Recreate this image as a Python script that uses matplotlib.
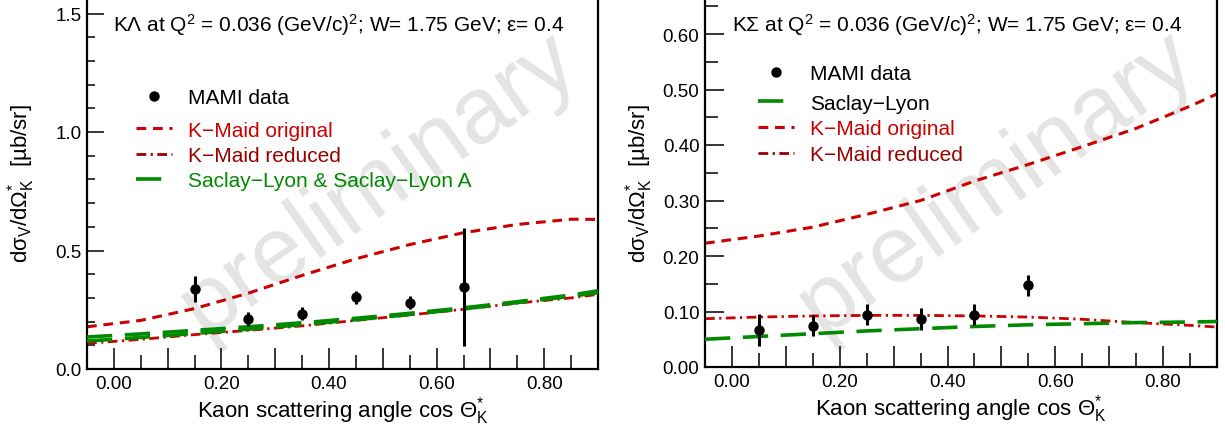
import numpy as np
import matplotlib
matplotlib.use("Agg")
import matplotlib.pyplot as plt
from matplotlib.lines import Line2D

plt.rcParams['font.family'] = ['Liberation Sans', 'DejaVu Sans']
plt.rcParams['mathtext.fontset'] = 'custom'
plt.rcParams['mathtext.rm'] = 'Liberation Sans'
plt.rcParams['mathtext.it'] = 'Liberation Sans:italic'
plt.rcParams['mathtext.default'] = 'regular'

# ---------- DATA ----------
# model curves, sampled at these cos(theta) values
curve_x = [-0.05, 0.05, 0.15, 0.25, 0.35, 0.45, 0.55, 0.65, 0.75, 0.85, 0.90]

# K Lambda
kl_kmaid_orig = [0.178, 0.205, 0.255, 0.32, 0.395, 0.465, 0.525, 0.575, 0.61, 0.632, 0.631]
kl_kmaid_red = [0.108, 0.125, 0.145, 0.163, 0.182, 0.205, 0.228, 0.252, 0.278, 0.30, 0.315]
kl_sl = [0.135, 0.148, 0.163, 0.178, 0.195, 0.214, 0.235, 0.258, 0.284, 0.312, 0.33]
kl_sla = [0.118, 0.133, 0.150, 0.168, 0.187, 0.208, 0.23, 0.254, 0.28, 0.307, 0.322]

kl_x = [0.15, 0.25, 0.35, 0.45, 0.55, 0.65]
kl_y = [0.337, 0.211, 0.233, 0.303, 0.279, 0.345]
kl_err = [0.056, 0.03, 0.027, 0.027, 0.027, 0.25]

# K Sigma
ks_kmaid_orig = [0.223, 0.236, 0.252, 0.275, 0.30, 0.335, 0.365, 0.397, 0.43, 0.47, 0.492]
ks_kmaid_red = [0.087, 0.090, 0.092, 0.093, 0.093, 0.092, 0.090, 0.086, 0.080, 0.075, 0.072]
ks_sl = [0.050, 0.055, 0.060, 0.065, 0.069, 0.073, 0.076, 0.078, 0.080, 0.081, 0.082]

ks_x = [0.05, 0.15, 0.25, 0.35, 0.45, 0.55]
ks_y = [0.066, 0.074, 0.094, 0.087, 0.094, 0.147]
ks_err = [0.029, 0.019, 0.019, 0.02, 0.019, 0.019]

x_major = [0.0, 0.1, 0.2, 0.3, 0.4, 0.5, 0.6, 0.7, 0.8, 0.9]
x_labels = ["0.00", "", "0.20", "", "0.40", "", "0.60", "", "0.80", ""]

kl_title = "K\u039b at Q$^{2}$ = 0.036 (GeV/c)$^{2}$; W= 1.75 GeV; \u03b5= 0.4"
ks_title = "K\u03a3 at Q$^{2}$ = 0.036 (GeV/c)$^{2}$; W= 1.75 GeV; \u03b5= 0.4"
xlab = "Kaon scattering angle cos \u0398$^{*}_{K}$"
ylab = "d\u03c3$_{V}$/d\u03a9$^{*}_{K}$  [\u00b5b/sr]"

RED = "#cc0000"
DRED = "#990000"
GREEN = "#008a00"
FS = 13.5     # tick labels
FT = 15       # titles, legend
FA = 16       # axis labels

fig = plt.figure(figsize=(12.25, 4.27), dpi=100)
axL = fig.add_axes([87/1225, 57/427, 511/1225, 1.6*237/427])
axR = fig.add_axes([705/1225, 59/427, 512/1225, 0.68*555/427])

dash_orig = (0, (3.2, 2.2))
dash_sl = (0, (7, 3.5))
dash_red = (0, (3.5, 1.6, 0.8, 1.6))


def style(ax, ymax, ymaj, ymin, ymaj_len, ymin_len, yfmt):
    ax.set_xlim(-0.05, 0.90)
    ax.set_ylim(0, ymax)
    ax.set_xticks(x_major)
    ax.set_xticklabels(x_labels)
    ax.set_xticks(np.arange(-0.05, 0.9, 0.1), minor=True)
    ax.set_yticks(ymaj)
    ax.set_yticklabels([yfmt % v for v in ymaj])
    ax.set_yticks(ymin, minor=True)
    ax.tick_params(axis='x', which='major', direction='in', length=15, width=1.1,
                   labelsize=FS, pad=4, top=False)
    ax.tick_params(axis='x', which='minor', direction='in', length=10, width=1.1, top=False)
    ax.tick_params(axis='y', which='major', direction='in', length=ymaj_len, width=1.1,
                   labelsize=FS, pad=4, right=False)
    ax.tick_params(axis='y', which='minor', direction='in', length=ymin_len, width=1.1, right=False)
    for s in ax.spines.values():
        s.set_linewidth(1.6)
    ax.set_xlabel(xlab, fontsize=FA, labelpad=2)


style(axL, 1.6, [0.0, 0.5, 1.0, 1.5], np.arange(0.1, 1.6, 0.1), 12, 6, "%.1f")
style(axR, 0.68, [0.0, 0.1, 0.2, 0.3, 0.4, 0.5, 0.6], np.arange(0.05, 0.68, 0.1), 14, 9, "%.2f")

for ax in (axL, axR):
    ax.text(0.57, 0.49, "preliminary", transform=ax.transAxes, fontsize=68,
            color="#e4e4e4", rotation=35, ha='center', va='center', zorder=0)

fig.text(21/1225, 1 - 184/427, ylab, rotation=90, fontsize=FA, ha='center', va='center')
fig.text(639/1225, 1 - 184/427, ylab, rotation=90, fontsize=FA, ha='center', va='center')

# ---------- LEFT: K Lambda ----------
axL.plot(curve_x, kl_kmaid_orig, color=RED, lw=2.2, ls=dash_orig, zorder=2)
axL.plot(curve_x, kl_kmaid_red, color=RED, lw=2.0, ls=dash_red, zorder=2)
axL.plot(curve_x, kl_sl, color=GREEN, lw=2.6, ls=dash_sl, zorder=3)
axL.plot(curve_x, kl_sla, color=GREEN, lw=2.6, ls=dash_sl, zorder=3)
axL.errorbar(kl_x, kl_y, yerr=kl_err, fmt='o', color='black', ms=6.5, elinewidth=2.2,
             capsize=0, zorder=4)
axL.text(0.051, 0.91, kl_title, transform=axL.transAxes, fontsize=FT, va='center')

leg_kw = dict(frameon=False, fontsize=FT, handlelength=1.73, handletextpad=0.77,
              borderpad=0, borderaxespad=0)

mamiL = axL.legend([Line2D([], [], ls='none', marker='o', color='black', ms=6.5)],
                   ["MAMI data"], loc='center left', bbox_to_anchor=(0.096, 0.715), **leg_kw)
axL.add_artist(mamiL)
hL = [Line2D([], [], color=RED, lw=2.2, ls=dash_orig),
      Line2D([], [], color=DRED, lw=2.0, ls=dash_red),
      Line2D([], [], color=GREEN, lw=2.6, ls=dash_sl)]
labL = ["K\u2212Maid original", "K\u2212Maid reduced",
        "Saclay\u2212Lyon & Saclay\u2212Lyon A"]
axL.legend(hL, labL, loc='upper left', bbox_to_anchor=(0.096, 0.655), labelspacing=0.3,
           labelcolor=[RED, DRED, GREEN], **leg_kw)

# ---------- RIGHT: K Sigma ----------
axR.plot(curve_x, ks_kmaid_orig, color=RED, lw=2.2, ls=dash_orig, zorder=2)
axR.plot(curve_x, ks_kmaid_red, color=RED, lw=2.0, ls=dash_red, zorder=2)
axR.plot(curve_x, ks_sl, color=GREEN, lw=2.6, ls=dash_sl, zorder=3)
axR.errorbar(ks_x, ks_y, yerr=ks_err, fmt='o', color='black', ms=6.5, elinewidth=2.2,
             capsize=0, zorder=4)
axR.text(0.053, 0.91, ks_title, transform=axR.transAxes, fontsize=FT, va='center')

mamiR = axR.legend([Line2D([], [], ls='none', marker='o', color='black', ms=6.5)],
                   ["MAMI data"], loc='center left', bbox_to_anchor=(0.1035, 0.777), **leg_kw)
axR.add_artist(mamiR)
hR = [Line2D([], [], color=GREEN, lw=2.6, ls=dash_sl),
      Line2D([], [], color=RED, lw=2.2, ls=dash_orig),
      Line2D([], [], color=DRED, lw=2.0, ls=dash_red)]
labR = ["Saclay\u2212Lyon", "K\u2212Maid original", "K\u2212Maid reduced"]
axR.legend(hR, labR, loc='upper left', bbox_to_anchor=(0.1035, 0.724), labelspacing=0.32,
           labelcolor=['black', RED, DRED], **leg_kw)

fig.savefig("out.png", dpi=100)
